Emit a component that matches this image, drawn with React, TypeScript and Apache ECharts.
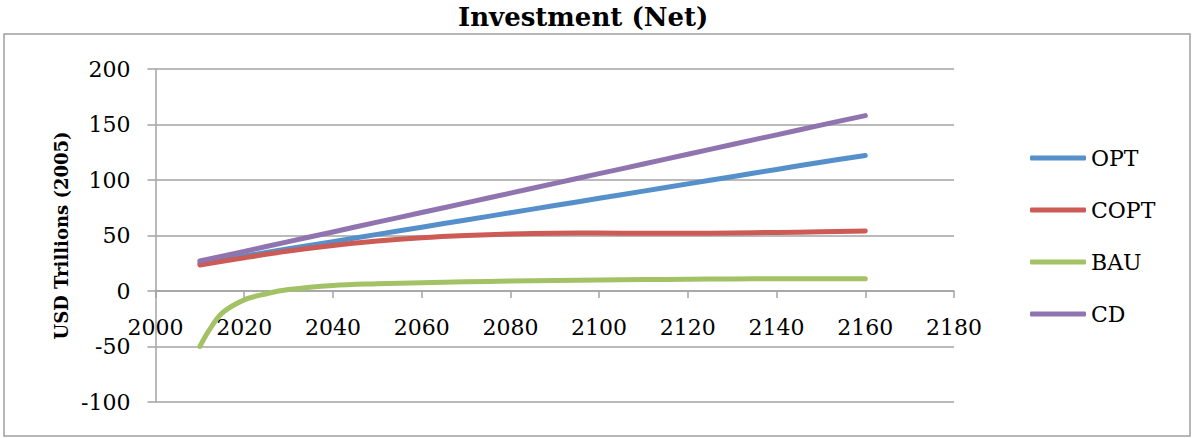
import React, { useEffect, useRef } from "react";
import * as echarts from "echarts";

// Scenario projections of net investment, USD trillions (2005)
const years = [2010, 2020, 2030, 2040, 2050, 2060, 2070, 2080, 2090, 2100, 2110, 2120, 2130, 2140, 2150, 2160];
const optValues = [25, 31.5, 38, 44.5, 51, 57.5, 64, 70.5, 77, 83.5, 90, 96.5, 103, 109.5, 116, 122];
const coptValues = [23.5, 30, 36, 41, 45, 48, 50, 51.3, 52, 52.2, 52, 52, 52.3, 52.8, 53.3, 54];
const cdValues = [27, 35.7, 44.5, 53.2, 62, 70.7, 79.4, 88.2, 97, 105.7, 114.4, 123.2, 132, 140.7, 149.4, 158];

// BAU recovers quickly from its initial dip, so it is sampled more finely early on
const bauYears = [2010, 2012, 2015, 2020, 2025, 2030, 2040, 2050, 2060, 2070, 2080, 2090, 2100, 2110, 2120, 2130, 2140, 2150, 2160];
const bauValues = [-50, -36, -20, -8, -2.5, 1.3, 5, 6.5, 7.5, 8.3, 9, 9.5, 10, 10.3, 10.6, 10.8, 11, 11, 11];

const seriesNames = ["OPT", "COPT", "BAU", "CD"];
const seriesColors = ["#5590cb", "#cc5b55", "#a3c266", "#8f74b0"];

const yTicks = { min: -100, max: 200, step: 50 };
const xTicks = { min: 2000, max: 2180, step: 20 };

const FONT = "DejaVu Serif";
const GRID_GREY = "#a3a3a3";

const GRID = { left: 155.5, right: 239, top: 69, bottom: 36 };
const HEIGHT = 438;

function pairs(xs: number[], ys: number[]) {
  return xs.map((x, i) => [x, ys[i]]);
}

export default function App() {
  const ref = useRef<HTMLDivElement>(null);

  useEffect(() => {
    document.body.style.margin = "0";
    if (!ref.current) return;
    const chart = echarts.init(ref.current, undefined, { renderer: "svg" });

    const dataSets = [
      pairs(years, optValues),
      pairs(years, coptValues),
      pairs(bauYears, bauValues),
      pairs(years, cdValues),
    ];

    // the year axis crosses the value axis at zero, with its labels
    const plotHeight = HEIGHT - GRID.top - GRID.bottom;
    const zeroOffset = -plotHeight * (0 - yTicks.min) / (yTicks.max - yTicks.min);

    chart.setOption({
      animation: false,
      backgroundColor: "#ffffff",
      textStyle: { fontFamily: FONT },
      title: {
        text: "Investment (Net)",
        left: 453,
        top: -1,
        textStyle: { fontFamily: FONT, fontWeight: "bold", fontSize: 26, color: "#000" },
      },
      graphic: [
        {
          type: "rect",
          shape: { x: 4, y: 34, width: 1186, height: 402 },
          style: { fill: "none", stroke: "#a0a0a0", lineWidth: 1.5 },
          silent: true,
        },
      ],
      legend: {
        orient: "vertical",
        left: 1025,
        top: 140,
        itemWidth: 56,
        itemHeight: 5,
        itemGap: 26,
        icon: "roundRect",
        textStyle: { fontFamily: FONT, fontSize: 22, color: "#000", lineHeight: 26 },
        data: seriesNames,
      },
      grid: { ...GRID, outerBoundsMode: "none", containLabel: false },
      xAxis: {
        type: "value",
        min: xTicks.min,
        max: xTicks.max,
        interval: xTicks.step,
        position: "bottom",
        offset: zeroOffset,
        axisLine: { onZero: false, lineStyle: { color: GRID_GREY, width: 1.5 } },
        axisTick: { show: true, inside: false, length: 7, lineStyle: { color: GRID_GREY, width: 1.5 } },
        axisLabel: { fontFamily: FONT, fontSize: 22, color: "#000", margin: 25, formatter: (v: number) => String(v) },
        splitLine: { show: false },
      },
      yAxis: {
        type: "value",
        min: yTicks.min,
        max: yTicks.max,
        interval: yTicks.step,
        name: "USD Trillions (2005)",
        nameLocation: "middle",
        nameRotate: 90,
        nameGap: 82,
        nameTextStyle: { fontFamily: FONT, fontWeight: "bold", fontSize: 18, color: "#000" },
        axisLine: { show: true, onZero: false, lineStyle: { color: GRID_GREY, width: 1.5 } },
        axisTick: { show: true, inside: false, length: 8, lineStyle: { color: GRID_GREY, width: 1.5 } },
        axisLabel: { fontFamily: FONT, fontSize: 22, color: "#000", margin: 25 },
        splitLine: { show: true, lineStyle: { color: GRID_GREY, width: 1.5 } },
      },
      series: seriesNames.map((name, i) => ({
        name,
        type: "line",
        data: dataSets[i],
        showSymbol: false,
        symbol: "none",
        smooth: 0.35,
        color: seriesColors[i],
        lineStyle: { color: seriesColors[i], width: 5, cap: "round", join: "round" },
        z: 2 + i,
      })),
    });

    return () => chart.dispose();
  }, []);

  return <div ref={ref} style={{ width: 1193, height: HEIGHT }} />;
}
